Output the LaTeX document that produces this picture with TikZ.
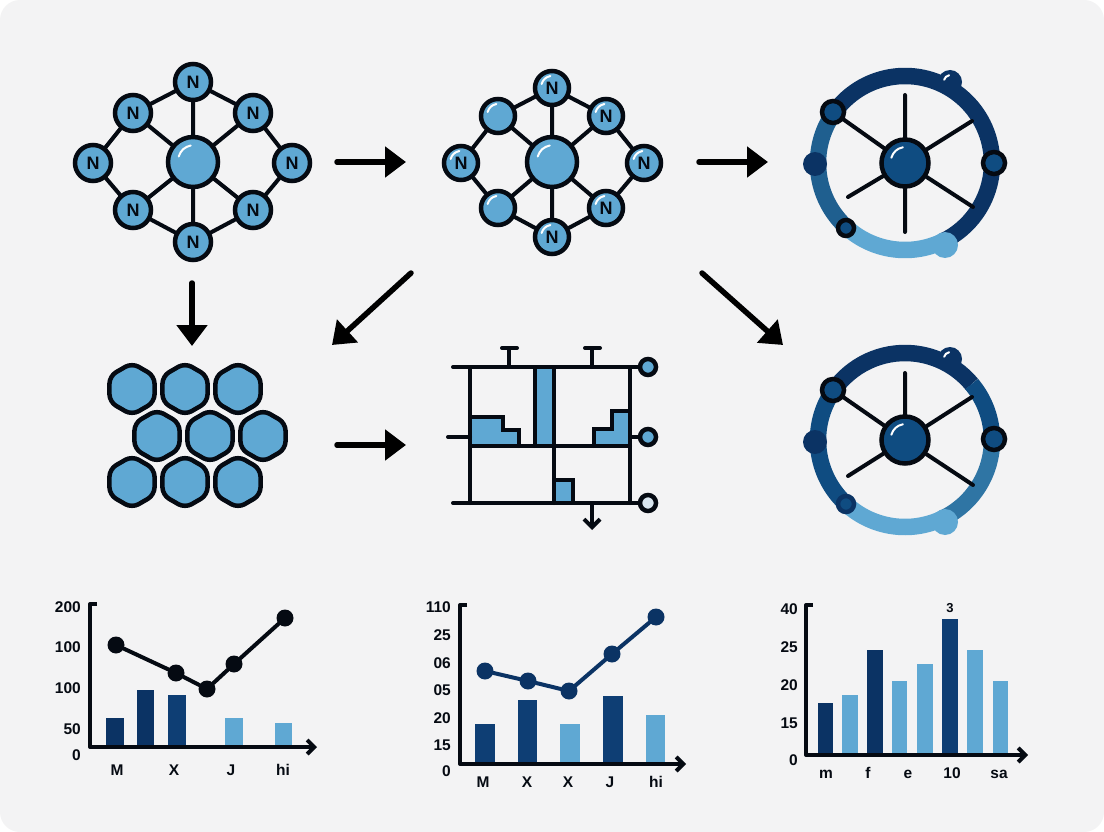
\documentclass[tikz,border=0pt]{standalone}
\usepackage{fontspec}
\setmainfont{Liberation Sans}
\usepackage{tikz}
\usetikzlibrary{shapes,arrows.meta}
\definecolor{paper}{HTML}{F3F3F4}
\definecolor{navy}{HTML}{0B3364}
\definecolor{navyb}{HTML}{0E3E74}
\definecolor{deep}{HTML}{0F4C81}
\definecolor{mid}{HTML}{1F5F8F}
\definecolor{steel}{HTML}{2F75A4}
\definecolor{sky}{HTML}{5FA8D3}
\definecolor{pale}{HTML}{D9E6F0}
\definecolor{ink}{HTML}{050A12}
\tikzstyle{vertex}=[circle,draw=ink,line width=4.5pt,fill=sky,minimum size=36pt,inner sep=0pt,font=\fontsize{18}{18}\selectfont\bfseries,text=ink]
\tikzstyle{hubvertex}=[vertex,minimum size=50pt]
\tikzstyle{cell}=[regular polygon,regular polygon sides=6,shape border rotate=30,draw=ink,line width=4.5pt,fill=sky,minimum size=52pt,inner sep=0pt,rounded corners=7.5pt]
\tikzstyle{bond}=[draw=ink,line width=4pt,line cap=round]
\tikzstyle{flow}=[draw=black,line width=5.5pt,line cap=round,line join=round,-{Triangle[length=21pt,width=30pt]}]
\tikzstyle{ring}=[line width=16.5pt]
\tikzstyle{pin}=[circle,draw=ink,line width=4.5pt,minimum size=16pt,inner sep=0pt]
\tikzstyle{plot}=[draw=ink,line width=4pt,line join=round,-{Straight Barb[length=7pt,width=14pt]}]
\tikzstyle{dot}=[circle,fill=ink,minimum size=17pt,inner sep=0pt]
\tikzstyle{ticklabel}=[anchor=east,inner sep=0pt,font=\fontsize{15.5}{16}\selectfont\bfseries,text=ink]
\tikzstyle{catlabel}=[anchor=base,inner sep=0pt,font=\fontsize{15.5}{16}\selectfont\bfseries,text=ink]
\newcommand{\shine}[2]{\draw[white,line width=2pt,line cap=round] (#1) ++(-13*#2,-5*#2) to[bend left=30] ++(11*#2,-10*#2);}
\newcommand{\chartbar}[5]{\fill[#5] (#1,#4) rectangle (#2,#3);}
\begin{document}
\begin{tikzpicture}[x=1pt,y=-1pt]
    \useasboundingbox (0,0) rectangle (1104,832);
    \fill[white] (0,0) rectangle (1104,832);
    \fill[paper,rounded corners=20pt] (0,0) rectangle (1104,832);

    % first molecule
    \node[hubvertex] (Ac) at (193,162) {};
    \node[vertex] (A1) at (193,82)  {N};
    \node[vertex] (A2) at (253,113) {N};
    \node[vertex] (A3) at (292,163) {N};
    \node[vertex] (A4) at (253,210) {N};
    \node[vertex] (A5) at (193,242) {N};
    \node[vertex] (A6) at (133,210) {N};
    \node[vertex] (A7) at (93,163)  {N};
    \node[vertex] (A8) at (133,113) {N};
    \draw[bond] (A1) -- (A2) -- (A3) -- (A4) -- (A5) -- (A6) -- (A7) -- (A8) -- (A1);
    \draw[bond] (Ac) -- (A1) (Ac) -- (A2) (Ac) -- (A4) (Ac) -- (A5) (Ac) -- (A6) (Ac) -- (A8);
    \shine{Ac}{1.1}

    % second molecule
    \node[hubvertex] (Bc) at (552,162) {};
    \node[vertex,minimum size=34pt] (B1) at (552,88)  {N};
    \node[vertex,minimum size=34pt] (B2) at (606,116) {N};
    \node[vertex,minimum size=34pt] (B3) at (644,163) {N};
    \node[vertex,minimum size=34pt] (B4) at (606,208) {N};
    \node[vertex,minimum size=34pt] (B5) at (552,237) {N};
    \node[vertex,minimum size=34pt] (B6) at (498,208) {};
    \node[vertex,minimum size=34pt] (B7) at (461,163) {N};
    \node[vertex,minimum size=34pt] (B8) at (498,116) {};
    \draw[bond] (B1) -- (B2) -- (B3) -- (B4) -- (B5) -- (B6) -- (B7) -- (B8) -- (B1);
    \draw[bond] (Bc) -- (B1) (Bc) -- (B2) (Bc) -- (B4) (Bc) -- (B5) (Bc) -- (B6) (Bc) -- (B8);
    \shine{Bc}{1.1}
    \shine{B6}{0.8}
    \shine{B8}{0.8}
    \shine{B1}{0.8}
    \shine{B2}{0.8}
    \shine{B3}{0.8}
    \shine{B4}{0.8}
    \shine{B5}{0.8}
    \shine{B7}{0.8}

    % first wheel
    \coordinate (Wa) at (905,163);
    \draw[ring,navy] (Wa) ++(145:87pt) arc[start angle=145,end angle=-64,radius=87pt];
    \draw[ring,mid] (Wa) ++(145:87pt) arc[start angle=145,end angle=228,radius=87pt];
    \draw[ring,sky] (Wa) ++(228:87pt) arc[start angle=228,end angle=296,radius=87pt];
    \node[hubvertex,fill=deep,minimum size=47pt] (Wac) at (905,163) {};
    \node[pin,fill=deep,minimum size=22pt] (Wa1) at (833,112) {};
    \node[circle,fill=navy,minimum size=24pt,inner sep=0pt] (Wa2) at (950,82) {};
    \node[pin,fill=deep,minimum size=22pt] (Wa3) at (994,163) {};
    \node[circle,fill=navy,minimum size=24pt,inner sep=0pt] (Wa4) at (815,164) {};
    \node[pin,fill=deep,minimum size=16pt] (Wa5) at (846,228) {};
    \node[circle,fill=sky,minimum size=26pt,inner sep=0pt] (Wa6) at (945,245) {};
    \coordinate (Wat) at (905,95);
    \coordinate (Wab) at (905,232);
    \coordinate (Waur) at (972,121);
    \coordinate (Walr) at (973,207);
    \coordinate (Wall) at (848,197);
    \draw[bond] (Wac) -- (Wat) (Wac) -- (Wab) (Wac) -- (Waur) (Wac) -- (Walr) (Wac) -- (Wall) (Wac) -- (Wa1);
    \shine{Wac}{1.05}
    \shine{Wa2}{0.45}

    % second wheel
    \coordinate (Wb) at (905,440);
    \draw[ring,navy] (Wb) ++(145:87pt) arc[start angle=145,end angle=40,radius=87pt];
    \draw[ring,deep] (Wb) ++(40:87pt) arc[start angle=40,end angle=0,radius=87pt];
    \draw[ring,steel] (Wb) ++(0:87pt) arc[start angle=0,end angle=-64,radius=87pt];
    \draw[ring,deep] (Wb) ++(145:87pt) arc[start angle=145,end angle=228,radius=87pt];
    \draw[ring,sky] (Wb) ++(228:87pt) arc[start angle=228,end angle=296,radius=87pt];
    \node[hubvertex,fill=deep,minimum size=47pt] (Wbc) at (905,440) {};
    \node[pin,fill=deep,minimum size=22pt] (Wb1) at (833,390) {};
    \node[circle,fill=navy,minimum size=24pt,inner sep=0pt] (Wb2) at (950,359) {};
    \node[pin,fill=deep,minimum size=22pt] (Wb3) at (994,439) {};
    \node[circle,fill=navy,minimum size=24pt,inner sep=0pt] (Wb4) at (815,442) {};
    \node[pin,fill=deep,draw=navy,minimum size=16pt] (Wb5) at (846,504) {};
    \node[circle,fill=sky,minimum size=26pt,inner sep=0pt] (Wb6) at (945,522) {};
    \coordinate (Wbt) at (905,373);
    \coordinate (Wbur) at (972,397);
    \coordinate (Wblr) at (973,485);
    \coordinate (Wbll) at (848,476);
    \draw[bond] (Wbc) -- (Wbt) (Wbc) -- (Wbur) (Wbc) -- (Wblr) (Wbc) -- (Wbll) (Wbc) -- (Wb1);
    \shine{Wbc}{1.05}
    \shine{Wb2}{0.45}

    % lattice
    \node[cell] (C1) at (132,389) {};
    \node[cell] (C2) at (185,389) {};
    \node[cell] (C3) at (238,389) {};
    \node[cell] (C4) at (157,436) {};
    \node[cell] (C5) at (210,436) {};
    \node[cell] (C6) at (263,436) {};
    \node[cell] (C7) at (132,482) {};
    \node[cell] (C8) at (185,482) {};
    \node[cell] (C9) at (238,482) {};

    % circuit
    \draw[bond,line join=miter,fill=sky] (470,446) -- (470,417) -- (503,417) -- (503,430) -- (519,430) -- (519,446);
    \draw[bond,line join=miter,fill=sky] (535,446) -- (535,367) -- (554,367) -- (554,446);
    \draw[bond,line join=miter,fill=sky] (594,446) -- (594,429) -- (612,429) -- (612,411) -- (630,411) -- (630,446);
    \draw[bond,line join=miter,fill=sky] (554,502) -- (554,480) -- (573,480) -- (573,502);
    \node[pin,fill=sky] (P1) at (648,367) {};
    \node[pin,fill=sky] (P2) at (648,437) {};
    \node[pin,fill=pale] (P3) at (648,503) {};
    \coordinate (Ltl) at (453,367);
    \coordinate (Lml) at (448,437);
    \coordinate (Lmm) at (470,437);
    \coordinate (Lmr) at (630,437);
    \coordinate (Lbl) at (453,503);
    \coordinate (Ltv) at (470,367);
    \coordinate (Lbv) at (470,503);
    \coordinate (Rtv) at (630,367);
    \coordinate (Rbv) at (630,503);
    \coordinate (Cl) at (470,446);
    \coordinate (Cr) at (630,446);
    \coordinate (Cm) at (554,446);
    \coordinate (Cb) at (554,503);
    \draw[bond] (Ltl) -- (P1);
    \draw[bond] (Lbl) -- (P3);
    \draw[bond] (Lml) -- (Lmm);
    \draw[bond] (Lmr) -- (P2);
    \draw[bond] (Ltv) -- (Lbv);
    \draw[bond] (Rtv) -- (Rbv);
    \draw[bond] (Cl) -- (Cr);
    \draw[bond] (Cm) -- (Cb);
    \coordinate (Ta) at (509,367);
    \coordinate (Tat) at (509,348);
    \coordinate (Tal) at (502,348);
    \coordinate (Tar) at (517,348);
    \coordinate (Tb) at (592,367);
    \coordinate (Tbt) at (592,348);
    \coordinate (Tbl) at (585,348);
    \coordinate (Tbr) at (600,348);
    \draw[bond] (Ta) -- (Tat) (Tal) -- (Tar);
    \draw[bond] (Tb) -- (Tbt) (Tbl) -- (Tbr);
    \coordinate (Da) at (592,503);
    \coordinate (Db) at (592,530);
    \draw[bond,-{Straight Barb[length=8pt,width=16pt]}] (Da) -- (Db);

    % flow arrows
    \coordinate (Fa1) at (337,162);
    \coordinate (Fa2) at (406,162);
    \coordinate (Fb1) at (699,162);
    \coordinate (Fb2) at (768,162);
    \coordinate (Fc1) at (192,283);
    \coordinate (Fc2) at (192,346);
    \coordinate (Fd1) at (411,273);
    \coordinate (Fd2) at (332,345);
    \coordinate (Fe1) at (702,273);
    \coordinate (Fe2) at (783,345);
    \coordinate (Ff1) at (337,445);
    \coordinate (Ff2) at (406,445);
    \draw[flow] (Fa1) -- (Fa2);
    \draw[flow] (Fb1) -- (Fb2);
    \draw[flow] (Fc1) -- (Fc2);
    \draw[flow] (Fd1) -- (Fd2);
    \draw[flow] (Fe1) -- (Fe2);
    \draw[flow] (Ff1) -- (Ff2);

    % left chart
    \chartbar{106}{124}{718}{747}{navy}
    \chartbar{137}{154}{690}{747}{navy}
    \chartbar{168}{186}{695}{747}{navyb}
    \chartbar{225}{243}{718}{747}{sky}
    \chartbar{275}{292}{723}{747}{sky}
    \coordinate (Xa0) at (97,604);
    \coordinate (Xa1) at (90,604);
    \coordinate (Xa2) at (90,747);
    \coordinate (Xa3) at (317,747);
    \draw[plot] (Xa0) -- (Xa1) -- (Xa2) -- (Xa3);
    \node[dot] (Da1) at (116,645) {};
    \node[dot] (Da2) at (176,673) {};
    \node[dot] (Da3) at (207,689) {};
    \node[dot] (Da4) at (234,664) {};
    \node[dot] (Da5) at (285,618) {};
    \draw[bond] (Da1) -- (Da2) -- (Da3) -- (Da4) -- (Da5);
    \node[ticklabel] (Ya1) at (81,607) {200};
    \node[ticklabel] (Ya2) at (81,647) {100};
    \node[ticklabel] (Ya3) at (81,688) {100};
    \node[ticklabel] (Ya4) at (81,729) {50};
    \node[ticklabel] (Ya5) at (81,755) {0};
    \node[catlabel] (La1) at (117,775) {M};
    \node[catlabel] (La2) at (174,775) {X};
    \node[catlabel] (La3) at (231,775) {J};
    \node[catlabel] (La4) at (283,775) {hi};

    % middle chart
    \chartbar{475}{495}{724}{764}{navyb}
    \chartbar{518}{537}{700}{764}{navyb}
    \chartbar{560}{580}{724}{764}{sky}
    \chartbar{603}{623}{696}{764}{navyb}
    \chartbar{646}{665}{715}{764}{sky}
    \coordinate (Xb0) at (467,605);
    \coordinate (Xb1) at (460,605);
    \coordinate (Xb2) at (460,764);
    \coordinate (Xb3) at (686,764);
    \draw[plot] (Xb0) -- (Xb1) -- (Xb2) -- (Xb3);
    \node[dot,fill=navy] (Db1) at (485,671) {};
    \node[dot,fill=navy] (Db2) at (528,681) {};
    \node[dot,fill=navy] (Db3) at (569,691) {};
    \node[dot,fill=navy] (Db4) at (612,654) {};
    \node[dot,fill=navy] (Db5) at (656,617) {};
    \draw[bond,draw=navy] (Db1) -- (Db2) -- (Db3) -- (Db4) -- (Db5);
    \node[ticklabel] (Yb1) at (451,607) {110};
    \node[ticklabel] (Yb2) at (451,635) {25};
    \node[ticklabel] (Yb3) at (451,663) {06};
    \node[ticklabel] (Yb4) at (451,690) {05};
    \node[ticklabel] (Yb5) at (451,718) {20};
    \node[ticklabel] (Yb6) at (451,745) {15};
    \node[ticklabel] (Yb7) at (451,771) {0};
    \node[catlabel] (Lb1) at (483,787) {M};
    \node[catlabel] (Lb2) at (527,787) {X};
    \node[catlabel] (Lb3) at (568,787) {X};
    \node[catlabel] (Lb4) at (610,787) {J};
    \node[catlabel] (Lb5) at (656,787) {hi};

    % right chart
    \chartbar{818}{833}{703}{755}{navy}
    \chartbar{842}{858}{695}{755}{sky}
    \chartbar{867}{883}{650}{755}{navy}
    \chartbar{892}{907}{681}{755}{sky}
    \chartbar{917}{933}{664}{755}{sky}
    \chartbar{942}{958}{619}{755}{navyb}
    \chartbar{967}{983}{650}{755}{sky}
    \chartbar{993}{1008}{681}{755}{sky}
    \coordinate (Xc0) at (813,605);
    \coordinate (Xc1) at (806,605);
    \coordinate (Xc2) at (806,755);
    \coordinate (Xc3) at (1028,755);
    \draw[plot] (Xc0) -- (Xc1) -- (Xc2) -- (Xc3);
    \node[ticklabel] (Yc1) at (798,609) {40};
    \node[ticklabel] (Yc2) at (798,647) {25};
    \node[ticklabel] (Yc3) at (798,685) {20};
    \node[ticklabel] (Yc4) at (798,723) {15};
    \node[ticklabel] (Yc5) at (798,760) {0};
    \node[catlabel,font=\fontsize{13}{13}\selectfont\bfseries] (Tc) at (950,612) {3};
    \node[catlabel] (Lc1) at (826,778) {m};
    \node[catlabel] (Lc2) at (868,778) {f};
    \node[catlabel] (Lc3) at (908,778) {e};
    \node[catlabel] (Lc4) at (952,778) {10};
    \node[catlabel] (Lc5) at (999,778) {sa};
\end{tikzpicture}
\end{document}
